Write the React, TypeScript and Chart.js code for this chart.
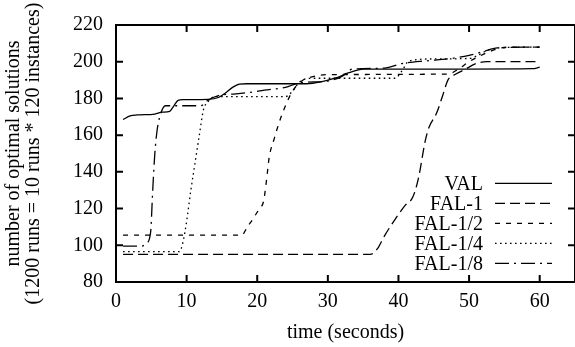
import React, { useEffect, useRef } from "react";
import { Chart, registerables } from "chart.js";

Chart.register(...registerables);

// ---- data (time in seconds, number of optimal solutions) ----
const seriesNames = ["VAL", "FAL-1", "FAL-1/2", "FAL-1/4", "FAL-1/8"];

const valTime = [1, 2, 3, 5.5, 6.5, 7.6, 8.2, 8.8, 9.5, 13, 14.5, 15.5, 16.5, 17.5, 18.5, 27, 29, 31, 33, 35, 40, 50, 59, 60];
const valCount = [168.5, 170.5, 171, 171.5, 172.5, 173, 176, 179, 179.3, 179.5, 180.5, 183, 186, 187.8, 188, 188, 189, 191, 194, 196, 196, 196, 196.2, 197];

const fal1Time = [1, 36, 37, 38, 39.5, 41, 42, 42.8, 43.8, 44.3, 45.4, 46.3, 47, 48, 49.5, 51, 52.5, 60];
const fal1Count = [95, 95, 98, 105, 114, 122, 126, 136, 157, 164, 172, 182, 190, 193, 196, 199, 200, 200];

const fal12Time = [1, 17.8, 18.6, 19.5, 20.3, 20.9, 21.3, 21.7, 22.4, 23.2, 24, 25, 26.3, 28, 30, 47, 48.5, 50, 52, 54, 56, 60];
const fal12Count = [105.5, 105.5, 110, 115, 120, 124, 135, 148, 158, 168, 176, 184, 189.5, 192, 193, 193.3, 196, 200, 204, 207, 208, 208];

const fal14Time = [1, 9, 9.5, 10, 10.6, 11.2, 11.8, 12.4, 13, 14, 24, 25, 26, 28, 39.5, 40.5, 41.5, 45, 50, 51, 52.5, 54, 60];
const fal14Count = [96.6, 96.6, 102, 113, 130, 145, 160, 174, 178, 181, 181, 184, 189, 191, 191, 195, 200.5, 201.5, 201.8, 203, 206, 207.5, 208];

const fal18Time = [1, 3.5, 4.3, 4.9, 5.2, 5.5, 5.8, 6.2, 7, 12, 13, 14.5, 17, 19, 21, 24, 26, 30, 32, 33.5, 38, 40.5, 44, 47, 50, 52, 54, 60];
const fal18Count = [99.5, 99.5, 101, 107, 130, 150, 162, 170, 176, 176, 179, 181.5, 182.5, 183.3, 184.5, 186, 188.5, 189.5, 192, 196, 196.5, 199, 200.5, 201.5, 203.5, 205.5, 207.5, 208];

const xTicks = [0, 10, 20, 30, 40, 50, 60];
const yTicks = [80, 100, 120, 140, 160, 180, 200, 220];

const xTitle = "time (seconds)";
const yTitle = ["number of optimal solutions", "(1200 runs = 10 runs * 120 instances)"];

// ---- styles ----
const dashes: number[][] = [[], [10, 5], [5, 6], [1.6, 3.4], [14, 5, 2, 5]];
const FONT = "'Liberation Serif', 'Times New Roman', Times, serif";

function pts(xs: number[], ys: number[]) {
  return xs.map((x, i) => ({ x, y: ys[i] }));
}

const framePlugin = {
  id: "gnuframe",
  afterDatasetsDraw(chart: any) {
    const { ctx, chartArea, scales } = chart;
    const { left, right, top, bottom } = chartArea;
    const xs = scales.x;
    const ys = scales.y;
    ctx.save();
    ctx.strokeStyle = "#000";
    ctx.lineWidth = 2;
    ctx.setLineDash([]);
    ctx.strokeRect(left, top, right - left, bottom - top);
    ctx.beginPath();
    const tl = 7;
    for (const v of xTicks) {
      const p = xs.getPixelForValue(v);
      ctx.moveTo(p, bottom);
      ctx.lineTo(p, bottom - tl);
      ctx.moveTo(p, top);
      ctx.lineTo(p, top + tl);
    }
    for (const v of yTicks) {
      const p = ys.getPixelForValue(v);
      ctx.moveTo(left, p);
      ctx.lineTo(left + tl, p);
      ctx.moveTo(right, p);
      ctx.lineTo(right - tl, p);
    }
    ctx.stroke();

    // legend
    const textRight = 483;
    const lineX0 = 495;
    const lineX1 = 552;
    const firstY = 183.3;
    const rowH = 20;
    ctx.font = `20px ${FONT}`;
    ctx.fillStyle = "#000";
    ctx.textAlign = "right";
    ctx.textBaseline = "alphabetic";
    chart.data.datasets.forEach((ds: any, i: number) => {
      const cy = firstY + i * rowH;
      ctx.fillText(ds.label, textRight, cy + 6.7);
      ctx.beginPath();
      ctx.lineWidth = 1.3;
      ctx.setLineDash(ds.borderDash || []);
      ctx.moveTo(lineX0, cy);
      ctx.lineTo(lineX1, cy);
      ctx.stroke();
    });
    ctx.restore();
  },
};

export default function App() {
  const ref = useRef<HTMLCanvasElement | null>(null);

  useEffect(() => {
    if (!ref.current) return;
    const series = [
      pts(valTime, valCount),
      pts(fal1Time, fal1Count),
      pts(fal12Time, fal12Count),
      pts(fal14Time, fal14Count),
      pts(fal18Time, fal18Count),
    ];
    const chart = new Chart(ref.current, {
      type: "line",
      data: {
        datasets: series.map((d, i) => ({
          label: seriesNames[i],
          data: d,
          borderColor: "#000",
          backgroundColor: "#000",
          borderWidth: 1.3,
          borderDash: dashes[i],
          pointRadius: 0,
          fill: false,
          cubicInterpolationMode: "monotone" as const,
        })),
      },
      options: {
        responsive: false,
        animation: false,
        devicePixelRatio: 1,
        parsing: false as any,
        layout: { padding: { top: 24, right: 0, left: 0, bottom: 0 } },
        plugins: {
          legend: { display: false },
          tooltip: { enabled: false },
        },
        scales: {
          x: {
            type: "linear",
            min: 0,
            max: 65,
            grid: { display: false, drawTicks: false },
            border: { display: false },
            afterBuildTicks: (s: any) => {
              s.ticks = xTicks.map((v) => ({ value: v }));
            },
            afterFit: (s: any) => {
              s.height = 65;
            },
            ticks: {
              color: "#000",
              font: { family: FONT, size: 20 },
              padding: 8,
              maxRotation: 0,
              autoSkip: false,
            },
            title: {
              display: true,
              text: xTitle,
              color: "#000",
              font: { family: FONT, size: 20 },
              padding: { top: 0, bottom: 2 },
            },
          },
          y: {
            type: "linear",
            min: 80,
            max: 220,
            grid: { display: false, drawTicks: false },
            border: { display: false },
            afterBuildTicks: (s: any) => {
              s.ticks = yTicks.map((v) => ({ value: v }));
            },
            afterFit: (s: any) => {
              s.width = 116;
            },
            ticks: {
              color: "#000",
              font: { family: FONT, size: 20 },
              padding: 13,
              autoSkip: false,
            },
            title: {
              display: true,
              text: yTitle,
              color: "#000",
              font: { family: FONT, size: 20, lineHeight: 1.0 },
              padding: { top: 4, bottom: 0 },
            },
          },
        },
      },
      plugins: [framePlugin],
    });
    return () => chart.destroy();
  }, []);

  return (
    <div style={{ position: "absolute", left: 0, top: 0, width: 575, height: 347, background: "#fff" }}>
      <canvas ref={ref} width={575} height={347} style={{ width: 575, height: 347, display: "block" }} />
    </div>
  );
}
